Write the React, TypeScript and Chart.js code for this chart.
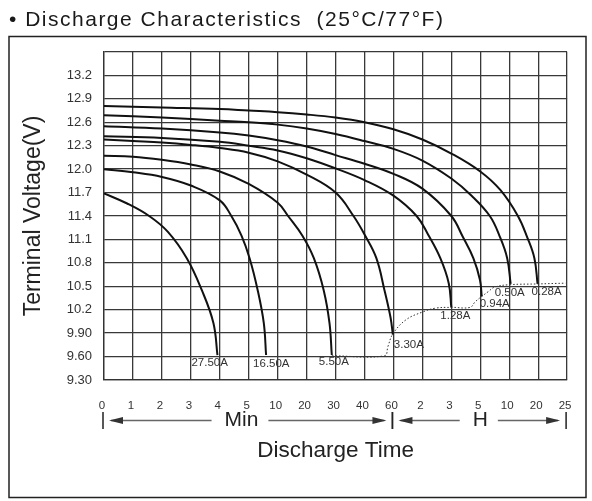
import { useEffect, useRef } from "react"
import { Chart, registerables } from "chart.js"

Chart.register(...registerables)

// Discharge current of each curve (label printed at the curve end)
const currents = ["27.50A", "16.50A", "5.50A", "3.30A", "1.28A", "0.94A", "0.50A", "0.28A"]

// Time is read as a position on the grid: 0..16 = the 17 time divisions
const time2750 = [0, 0.8, 1.56, 2.2, 2.86, 3.38, 3.78, 3.92]
const volt2750 = [11.69, 11.56, 11.4, 11.2, 10.86, 10.45, 10.03, 9.62]

const time1650 = [0, 1, 2, 3, 4, 4.4, 4.75, 5.03, 5.31, 5.52, 5.6]
const volt1650 = [12.0, 11.96, 11.9, 11.79, 11.6, 11.4, 11.15, 10.86, 10.45, 10.03, 9.62]

const time550 = [0, 1, 2, 3, 4, 5, 6, 6.36, 6.85, 7.25, 7.59, 7.79, 7.87]
const volt550 = [12.17, 12.16, 12.12, 12.06, 11.97, 11.81, 11.57, 11.4, 11.15, 10.86, 10.45, 10.03, 9.62]

const time330 = [0, 1, 2, 3, 4, 5, 6, 7, 8, 8.62, 9.02, 9.41, 9.69, 9.9, 9.98]
const volt330 = [12.38, 12.36, 12.34, 12.31, 12.27, 12.21, 12.1, 11.93, 11.7, 11.4, 11.15, 10.86, 10.45, 10.1, 9.88]

const time128 = [0, 2, 4, 5, 6, 7, 8, 9, 10, 10.8, 11.2, 11.62, 11.91, 12.0]
const volt128 = [12.42, 12.4, 12.35, 12.3, 12.24, 12.14, 12.01, 11.86, 11.66, 11.4, 11.16, 10.86, 10.54, 10.23]

const time094 = [0, 2, 4, 5, 6, 7, 8, 9, 10, 11, 12, 12.4, 12.76, 12.99, 13.05]
const volt094 = [12.55, 12.52, 12.47, 12.43, 12.37, 12.29, 12.18, 12.07, 11.94, 11.75, 11.4, 11.13, 10.86, 10.58, 10.37]

const time050 = [0, 2, 4, 5, 6, 7, 8, 9, 10, 11, 12, 12.7, 13.33, 13.67, 13.93, 14.05]
const volt050 = [12.69, 12.66, 12.62, 12.6, 12.57, 12.52, 12.45, 12.36, 12.26, 12.11, 11.88, 11.66, 11.4, 11.14, 10.86, 10.53]

const time028 = [0, 2, 4, 5, 6, 7, 8, 9, 10, 11, 12, 13, 13.7, 14.3, 14.62, 14.87, 14.98]
const volt028 = [12.81, 12.79, 12.77, 12.75, 12.73, 12.7, 12.66, 12.6, 12.51, 12.38, 12.2, 11.97, 11.73, 11.4, 11.13, 10.86, 10.53]

// Final voltage line joining the curve ends (dotted)
const cutoffTime = [7.87, 9.69, 9.81, 9.98, 10.43, 11.0, 11.45, 12.0, 12.65, 12.82, 13.05, 13.27, 13.5, 14.01, 14.98, 15.95]
const cutoffVolt = [9.61, 9.61, 9.73, 9.89, 10.07, 10.17, 10.22, 10.23, 10.23, 10.3, 10.37, 10.43, 10.49, 10.52, 10.53, 10.54]

const timeTicks = ["0", "1", "2", "3", "4", "5", "10", "20", "30", "40", "60", "2", "3", "5", "10", "20", "25"]
const voltTicks = [9.3, 9.6, 9.9, 10.2, 10.5, 10.8, 11.1, 11.4, 11.7, 12.0, 12.3, 12.6, 12.9, 13.2, 13.5]
const voltLabels = ["9.30", "9.60", "9.90", "10.2", "10.5", "10.8", "11.1", "11.4", "11.7", "12.0", "12.3", "12.6", "12.9", "13.2", ""]

// Minutes run from division 0 to 10, hours from 10 to 16
const timeUnits = [
  { label: "Min", from: 0, to: 10, at: 4.75 },
  { label: "H", from: 10, to: 16, at: 13 },
]

const curves = [
  [time2750, volt2750],
  [time1650, volt1650],
  [time550, volt550],
  [time330, volt330],
  [time128, volt128],
  [time094, volt094],
  [time050, volt050],
  [time028, volt028],
]

// pixel offset of each current label from the curve end
const labelOffsets = [
  [-26, 8],
  [-13, 9],
  [-13, 7],
  [1, 10],
  [-11, 8],
  [-2, 7],
  [-16, 9],
  [-6, 8],
]

const FONT = "'Liberation Sans', Arial, sans-serif"

function arrowHead(ctx: CanvasRenderingContext2D, x: number, y: number, dir: number) {
  ctx.beginPath()
  ctx.moveTo(x, y)
  ctx.lineTo(x - dir * 14, y - 3.5)
  ctx.lineTo(x - dir * 14, y + 3.5)
  ctx.closePath()
  ctx.fill()
}

const notesPlugin = {
  id: "notes",
  beforeDraw(chart: any) {
    const { ctx } = chart
    ctx.save()
    ctx.fillStyle = "#fff"
    ctx.fillRect(0, 0, chart.width, chart.height)
    ctx.strokeStyle = "#222"
    ctx.lineWidth = 1.5
    ctx.strokeRect(9, 36.5, 577, 461)
    ctx.restore()
  },
  afterDatasetsDraw(chart: any) {
    const { ctx } = chart
    const xs = chart.scales.x
    const ys = chart.scales.y
    ctx.save()
    ctx.font = `11.5px ${FONT}`
    ctx.fillStyle = "#333"
    ctx.textAlign = "left"
    ctx.textBaseline = "middle"
    curves.forEach(([t, v], i) => {
      const x = xs.getPixelForValue(t[t.length - 1])
      const y = ys.getPixelForValue(v[v.length - 1])
      ctx.fillText(currents[i], x + labelOffsets[i][0], y + labelOffsets[i][1])
    })
    ctx.restore()
  },
  afterDraw(chart: any) {
    const { ctx, chartArea } = chart
    const xs = chart.scales.x
    const y = chartArea.bottom + 40.5
    ctx.save()
    ctx.font = `21px ${FONT}`
    ctx.textAlign = "center"
    ctx.textBaseline = "middle"
    timeUnits.forEach((u) => {
      const x0 = xs.getPixelForValue(u.from) - 1
      const x1 = xs.getPixelForValue(u.to) - 1
      const cx = xs.getPixelForValue(u.at)
      const tw = ctx.measureText(u.label).width

      ctx.strokeStyle = "#222"
      ctx.lineWidth = 1.5
      ctx.beginPath()
      ctx.moveTo(x0, y - 8.5)
      ctx.lineTo(x0, y + 8.5)
      ctx.moveTo(x1, y - 8.5)
      ctx.lineTo(x1, y + 8.5)
      ctx.stroke()

      ctx.strokeStyle = "#666"
      ctx.beginPath()
      ctx.moveTo(x0 + 8, y)
      ctx.lineTo(cx - tw / 2 - 13, y)
      ctx.moveTo(cx + tw / 2 + 10, y)
      ctx.lineTo(x1 - 8, y)
      ctx.stroke()

      ctx.fillStyle = "#333"
      arrowHead(ctx, x0 + 6, y, -1)
      arrowHead(ctx, x1 - 6, y, 1)

      ctx.fillStyle = "#222"
      ctx.fillText(u.label, cx, y)
    })
    ctx.restore()
  },
}

export default function App() {
  const chartRef = useRef<HTMLCanvasElement>(null)
  const chartInstance = useRef<Chart | null>(null)

  useEffect(() => {
    document.body.style.margin = "0"
    if (!chartRef.current) return

    if (chartInstance.current) {
      chartInstance.current.destroy()
    }

    const ctx = chartRef.current.getContext("2d")
    if (!ctx) return

    const lines = curves.map(([t, v], i) => ({
      label: currents[i],
      data: t.map((x, j) => ({ x, y: v[j] })),
      borderColor: "#111",
      borderWidth: 2,
      pointRadius: 0,
      tension: 0.4,
    }))

    chartInstance.current = new Chart(ctx, {
      type: "line",
      data: {
        datasets: [
          ...lines,
          {
            label: "cut-off",
            data: cutoffTime.map((x, j) => ({ x, y: cutoffVolt[j] })),
            borderColor: "#333",
            borderWidth: 1,
            borderDash: [1.5, 2],
            pointRadius: 0,
            tension: 0.4,
          },
        ],
      },
      options: {
        animation: false,
        responsive: false,
        layout: { padding: { top: 52, right: 19, left: 0, bottom: 0 } },
        plugins: {
          legend: { display: false },
          tooltip: { enabled: false },
        },
        scales: {
          x: {
            type: "linear",
            min: 0,
            max: 16,
            afterBuildTicks: (axis: any) => {
              axis.ticks = timeTicks.map((_, i) => ({ value: i }))
            },
            afterFit: (axis: any) => {
              axis.height = 121
            },
            grid: { color: "#383838", lineWidth: 1.3, drawTicks: false },
            border: { color: "#333", width: 1.3 },
            ticks: {
              autoSkip: false,
              maxRotation: 0,
              padding: 18.5,
              labelOffset: -2,
              color: "#333",
              font: { family: FONT, size: 11.5 },
              callback: (_v: any, i: number) => timeTicks[i],
            },
            title: {
              display: true,
              text: "Discharge Time",
              color: "#222",
              font: { family: FONT, size: 22.5 },
              padding: { top: 0, bottom: 36.5 },
            },
          },
          y: {
            min: 9.3,
            max: 13.5,
            afterBuildTicks: (axis: any) => {
              axis.ticks = voltTicks.map((value) => ({ value }))
            },
            afterFit: (axis: any) => {
              axis.width = 104
            },
            grid: { color: "#383838", lineWidth: 1.3, drawTicks: false },
            border: { color: "#333", width: 1.3 },
            ticks: {
              padding: 12,
              color: "#333",
              font: { family: FONT, size: 13 },
              callback: (_v: any, i: number) => voltLabels[i],
            },
            title: {
              display: true,
              text: "Terminal Voltage(V)",
              color: "#222",
              font: { family: FONT, size: 23 },
              padding: { top: 20, bottom: 0 },
            },
          },
        },
      },
      plugins: [notesPlugin],
    })

    return () => {
      if (chartInstance.current) {
        chartInstance.current.destroy()
        chartInstance.current = null
      }
    }
  }, [])

  return (
    <div style={{ position: "relative", width: 592, height: 501 }}>
      <canvas ref={chartRef} width={592} height={501} style={{ display: "block" }} />
      <div
        style={{
          position: "absolute",
          left: 9,
          top: 8,
          font: `21px ${FONT}`,
          lineHeight: "21px",
          letterSpacing: "1.5px",
          color: "#1a1a1a",
          whiteSpace: "nowrap",
        }}
      >
        • Discharge Characteristics{"\u00a0\u00a0"}(25°C/77°F)
      </div>
    </div>
  )
}
